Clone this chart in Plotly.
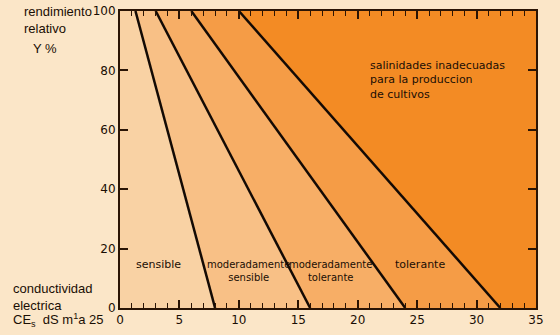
import plotly.graph_objects as go

# Data: crop tolerance classes (threshold EC at 100% yield, EC at 0% yield)
classes = ["sensible", "moderadamente sensible", "moderadamente tolerante", "tolerante"]
ec_threshold = [1.3, 3, 6, 10]
ec_zero = [8, 16, 24, 32]
x_max = 35
y_max = 100
x_ticks = [0, 5, 10, 15, 20, 25, 30, 35]
y_ticks = [0, 20, 40, 60, 80, 100]

zone_colors = ["#F9D2A4", "#F8C086", "#F7AE66", "#F59C46", "#F38B24"]

fig = go.Figure()

# zone polygons built from the line endpoints
bounds_top = [0] + ec_threshold + [x_max]
bounds_bot = [0] + ec_zero + [x_max]
for i in range(5):
    xs = [bounds_bot[i], bounds_top[i], bounds_top[i + 1], bounds_bot[i + 1]]
    ys = [0, y_max, y_max, 0]
    fig.add_trace(go.Scatter(x=xs, y=ys, fill="toself", fillcolor=zone_colors[i],
                             line=dict(width=0), mode="lines", hoverinfo="skip",
                             showlegend=False))

for t, z in zip(ec_threshold, ec_zero):
    fig.add_trace(go.Scatter(x=[t, z], y=[y_max, 0], mode="lines",
                             line=dict(color="#140a04", width=2.5),
                             showlegend=False, hoverinfo="skip"))

ink = "#1a0e04"
txt = dict(family="DejaVu Sans", size=11, color=ink)
txt_small = dict(family="DejaVu Sans", size=10, color=ink)
annotations = [
    dict(x=3.2, y=14.5, text="sensible", font=txt),
    dict(x=10.8, y=12.3, text="moderadamente<br>sensible", font=txt_small),
    dict(x=17.7, y=12.3, text="moderadamente<br>tolerante", font=txt_small),
    dict(x=25.2, y=14.5, text="tolerante", font=txt),
]
for a in annotations:
    a.update(xref="x", yref="y", showarrow=False, align="center",
             xanchor="center", yanchor="middle")
annotations.append(dict(x=20.9, y=76.8, text="salinidades inadecuadas<br>para la produccion<br>de cultivos",
                        xref="x", yref="y", xanchor="left", yanchor="middle", showarrow=False,
                        font=txt, align="left"))
lab = dict(family="Liberation Sans", size=13, color=ink)
annotations.append(dict(x=-0.236, y=1.03, text="rendimiento<br>relativo", xref="paper", yref="paper",
                        xanchor="left", yanchor="top", showarrow=False, font=lab, align="left"))
annotations.append(dict(x=-0.215, y=0.875, text="Y %", xref="paper", yref="paper",
                        xanchor="left", yanchor="middle", showarrow=False, font=lab))
annotations.append(dict(x=-0.262, y=0.037, text="conductividad<br>electrica", xref="paper", yref="paper",
                        xanchor="left", yanchor="middle", showarrow=False, font=lab, align="left"))
annotations.append(dict(x=-0.262, y=-0.04, text="CE<sub>s</sub>  dS m<sup>1</sup>a 25", xref="paper",
                        yref="paper", xanchor="left", yanchor="middle", showarrow=False, font=lab))

fig.update_layout(
    width=560, height=335,
    margin=dict(l=120, r=24, t=11, b=27),
    paper_bgcolor="#FBE6C8", plot_bgcolor="#FBE6C8",
    annotations=annotations,
    font=dict(family="DejaVu Sans", size=12, color=ink),
)
axis_common = dict(ticks="inside", ticklen=8, tickwidth=1.5, tickcolor="#2a1404",
                   showline=True, linecolor="#2a1404", linewidth=2, mirror="ticks",
                   showgrid=False, zeroline=False, automargin=False,
                   tickfont=dict(family="DejaVu Sans", size=12, color=ink))
fig.update_xaxes(range=[0, x_max], tickvals=x_ticks,
                 minor=dict(dtick=1, ticks="inside", ticklen=5, tickcolor="#2a1404", tickwidth=1.2),
                 **axis_common)
fig.update_yaxes(range=[0, y_max], tickvals=y_ticks, **axis_common)

fig.write_html("out.html")
